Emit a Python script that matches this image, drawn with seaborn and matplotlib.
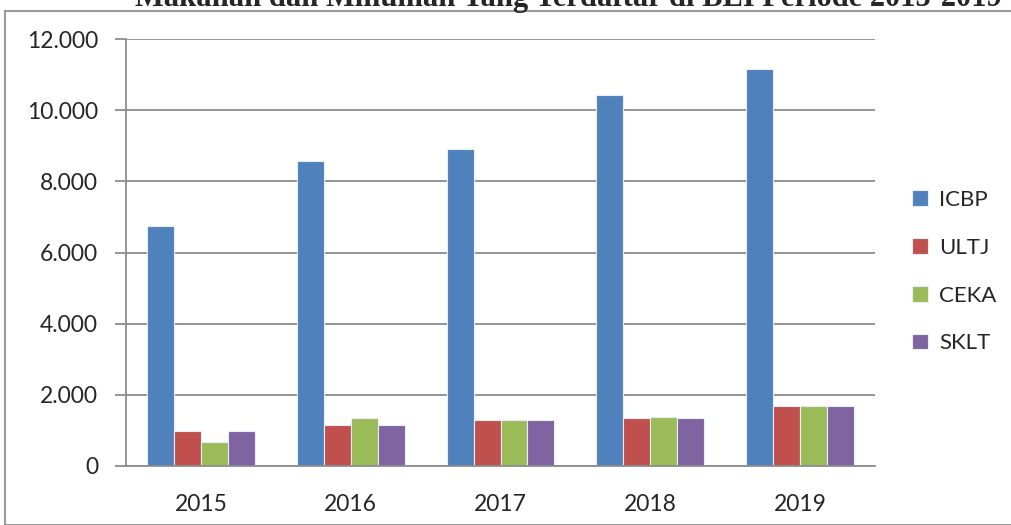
import matplotlib
matplotlib.use("Agg")
import matplotlib.pyplot as plt
import seaborn as sns
import pandas as pd
from matplotlib.patches import Rectangle

years = ["2015", "2016", "2017", "2018", "2019"]
companies = ["ICBP", "ULTJ", "CEKA", "SKLT"]
icbp = [6740, 8580, 8900, 10430, 11160]
ultj = [980, 1150, 1290, 1360, 1690]
ceka = [680, 1360, 1290, 1380, 1680]
sklt = [980, 1150, 1290, 1360, 1690]
colors = ["#4F81BD", "#C0504D", "#9BBB59", "#8064A2"]
y_ticks = [0, 2000, 4000, 6000, 8000, 10000, 12000]
y_labels = ["0", "2.000", "4.000", "6.000", "8.000", "10.000", "12.000"]
title = "Makanan dan Minuman Yang Terdaftar di BEI Periode 2015-2019"

rows = []
for name, vals in zip(companies, [icbp, ultj, ceka, sklt]):
    for y, v in zip(years, vals):
        rows.append({"Tahun": y, "Emiten": name, "Nilai": v})
df = pd.DataFrame(rows)

sns.set_theme(style="white")
plt.rcParams["font.family"] = ["Lato", "DejaVu Sans"]

fig = plt.figure(figsize=(10.11, 5.25), dpi=100)
ax = fig.add_axes([126/1011, 59/525, (875-126)/1011, (466-39)/525])

sns.barplot(data=df, x="Tahun", y="Nilai", hue="Emiten", order=years,
            hue_order=companies, palette=colors, saturation=1, width=0.72, gap=0,
            linewidth=0.8, edgecolor="#e8eef6", ax=ax, legend=True)

grid_c = "#8c8c8c"
fs = 16.5
ax.set_ylim(0, 12000)
ax.set_xlim(-0.5, 4.5)
ax.set_yticks(y_ticks)
ax.set_yticklabels(y_labels, fontsize=fs)
ax.yaxis.grid(True, color=grid_c, linewidth=1.3)
ax.set_axisbelow(True)
ax.set_xlabel("")
ax.set_ylabel("")
ax.set_xticks(range(len(years)))
ax.set_xticklabels(years, fontsize=fs)
ax.set_xticks([i - 0.5 for i in range(len(years) + 1)], minor=True)
ax.tick_params(axis="x", which="major", length=0, pad=20)
ax.tick_params(axis="x", which="minor", length=8, width=1.3, color=grid_c, direction="out")
ax.tick_params(axis="y", length=8, width=1.3, color=grid_c, direction="out", pad=12, left=True)
for s in ["top", "right"]:
    ax.spines[s].set_visible(False)
for s in ["left", "bottom"]:
    ax.spines[s].set_color(grid_c)
    ax.spines[s].set_linewidth(1.3)

leg = ax.legend(loc="center left", bbox_to_anchor=(1.035, 0.455), frameon=False,
                fontsize=16, handlelength=0.7, handleheight=0.7,
                labelspacing=1.25, handletextpad=0.5, borderpad=0)

fig.patches.append(Rectangle((5/1011, 0), 1.2, 1 - 11/525, transform=fig.transFigure,
                             fill=False, edgecolor="#9a9a9a", linewidth=1.5))
fig.text(0.562, 1 - 6/525, title, ha="center", va="baseline",
         fontsize=22, fontweight="bold", family=["Liberation Serif", "DejaVu Serif"])

fig.savefig("out.png", dpi=100)
